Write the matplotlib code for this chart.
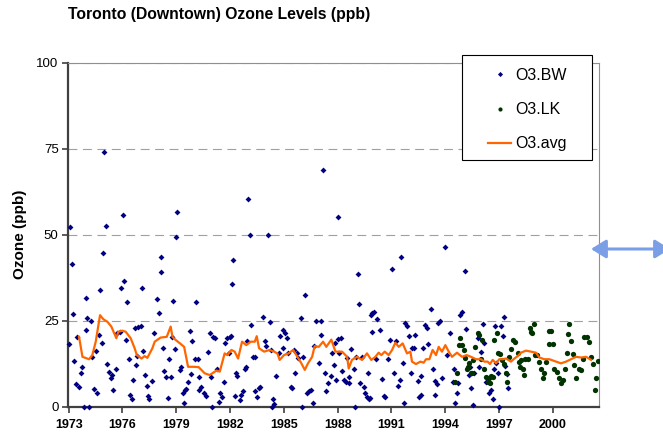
import numpy as np
import matplotlib
matplotlib.use('Agg')
import matplotlib.pyplot as plt
from matplotlib.lines import Line2D
from matplotlib.patches import Rectangle

plt.rcParams['font.family'] = ['Liberation Sans', 'DejaVu Sans']

# O3.BW readings (year, ppb)
bw_year = [1973.0, 1973.08, 1973.21, 1973.26, 1973.30, 1973.41, 1973.49, 1973.58, 1973.67, 1973.77,
           1973.86, 1973.95, 1973.99, 1974.04, 1974.16, 1974.23, 1974.32, 1974.42, 1974.53, 1974.60,
           1974.70, 1974.73, 1974.84, 1974.92, 1974.99, 1975.09, 1975.16, 1975.25, 1975.35, 1975.44,
           1975.47, 1975.62, 1975.72, 1975.85, 1975.94, 1976.05, 1976.09, 1976.18, 1976.24, 1976.37,
           1976.42, 1976.52, 1976.61, 1976.68, 1976.74, 1976.83, 1976.87, 1977.02, 1977.09, 1977.17,
           1977.24, 1977.35, 1977.43, 1977.50, 1977.67, 1977.76, 1977.95, 1978.04, 1978.13, 1978.15,
           1978.26, 1978.32, 1978.43, 1978.54, 1978.60, 1978.69, 1978.79, 1978.80, 1978.93, 1979.01,
           1979.06, 1979.21, 1979.29, 1979.40, 1979.44, 1979.47, 1979.55, 1979.66, 1979.77, 1979.85,
           1979.90, 1980.03, 1980.12, 1980.22, 1980.25, 1980.29, 1980.40, 1980.55, 1980.68, 1980.77,
           1980.87, 1980.92, 1981.00, 1981.05, 1981.18, 1981.30, 1981.40, 1981.43, 1981.56, 1981.67,
           1981.74, 1981.85, 1981.93, 1981.98, 1982.08, 1982.11, 1982.17, 1982.26, 1982.36, 1982.41,
           1982.54, 1982.63, 1982.73, 1982.82, 1982.91, 1982.97, 1983.00, 1983.10, 1983.19, 1983.28,
           1983.38, 1983.41, 1983.53, 1983.60, 1983.68, 1983.86, 1983.94, 1984.03, 1984.12, 1984.21,
           1984.31, 1984.34, 1984.42, 1984.46, 1984.59, 1984.75, 1984.79, 1984.96, 1984.98, 1985.09,
           1985.16, 1985.24, 1985.39, 1985.48, 1985.57, 1985.65, 1985.74, 1985.79, 1985.94, 1986.02,
           1986.09, 1986.20, 1986.28, 1986.39, 1986.50, 1986.61, 1986.69, 1986.82, 1986.98, 1987.06,
           1987.10, 1987.17, 1987.28, 1987.37, 1987.47, 1987.65, 1987.69, 1987.78, 1987.88, 1987.90,
           1988.02, 1988.00, 1988.10, 1988.17, 1988.25, 1988.34, 1988.47, 1988.53, 1988.62, 1988.66,
           1988.77, 1988.90, 1988.95, 1989.03, 1989.14, 1989.18, 1989.27, 1989.36, 1989.46, 1989.55,
           1989.64, 1989.70, 1989.74, 1989.83, 1989.85, 1989.92, 1989.94, 1990.05, 1990.16, 1990.20,
           1990.39, 1990.48, 1990.57, 1990.63, 1990.81, 1990.94, 1991.04, 1991.13, 1991.26, 1991.37,
           1991.48, 1991.52, 1991.63, 1991.71, 1991.74, 1991.85, 1992.00, 1992.11, 1992.15, 1992.25,
           1992.34, 1992.49, 1992.56, 1992.64, 1992.67, 1992.78, 1992.90, 1992.99, 1993.04, 1993.23,
           1993.32, 1993.42, 1993.45, 1993.56, 1993.60, 1993.71, 1993.82, 1994.01, 1994.10, 1994.29,
           1994.42, 1994.49, 1994.57, 1994.66, 1994.72, 1994.85, 1994.94, 1995.13, 1995.18, 1995.31,
           1995.39, 1995.44, 1995.54, 1995.63, 1995.81, 1995.91, 1996.00, 1996.09, 1996.19, 1996.28,
           1996.47, 1996.56, 1996.65, 1996.74, 1996.80, 1996.84, 1996.93, 1997.02, 1997.12, 1997.21,
           1997.30, 1997.36, 1997.43, 1997.49]
bw_ozone = [18.3, 52.3, 41.5, 26.9, 13.4, 6.6, 20.3, 5.6, 9.9, 11.6,
            0.0, 31.7, 22.3, 25.8, 0.0, 24.8, 14.5, 5.2, 16.2, 4.1,
            20.9, 33.9, 18.6, 44.8, 73.9, 52.5, 12.3, 10.2, 8.2, 9.2,
            5.0, 10.9, 21.3, 21.7, 34.5, 55.6, 36.6, 19.4, 30.4, 14.0,
            3.4, 2.1, 7.9, 22.8, 12.2, 14.7, 23.3, 23.5, 34.5, 16.3,
            9.2, 6.0, 3.1, 2.1, 7.6, 21.3, 31.2, 27.1, 39.1, 43.6,
            17.1, 10.4, 8.5, 2.5, 14.0, 8.7, 20.3, 30.8, 16.7, 49.2,
            56.5, 10.8, 11.6, 3.9, 1.2, 4.8, 5.2, 7.3, 22.1, 9.5,
            19.1, 13.8, 30.5, 13.9, 8.7, 4.8, 5.8, 3.9, 3.1, 15.8,
            21.5, 8.7, 0.0, 20.3, 19.9, 10.9, 1.4, 3.9, 2.7, 7.3,
            18.6, 20.1, 15.7, 20.3, 20.5, 35.6, 42.6, 3.1, 9.9, 8.9,
            1.9, 3.5, 4.6, 11.1, 11.6, 19.2, 60.5, 49.8, 23.8, 14.5,
            14.5, 4.6, 2.9, 5.3, 5.8, 26.2, 19.2, 17.6, 49.8, 24.7,
            16.5, 0.0, 2.3, 0.8, 8.9, 15.5, 20.5, 17.2, 22.3, 21.5,
            19.9, 15.7, 5.8, 5.3, 16.5, 9.9, 15.5, 14.3, 25.8, 0.0,
            14.5, 32.4, 3.9, 4.5, 4.8, 1.2, 17.6, 25.0, 12.6, 25.0,
            20.9, 68.8, 9.9, 4.6, 7.0, 8.9, 15.5, 12.1, 18.6, 7.7,
            55.0, 19.8, 15.5, 19.9, 10.5, 7.7, 7.3, 14.2, 8.7, 7.0,
            16.7, 11.1, 0.0, 14.5, 38.6, 29.8, 6.8, 14.5, 5.6, 3.9,
            2.7, 9.7, 2.3, 2.5, 26.8, 27.1, 21.8, 27.5, 13.8, 25.5,
            22.3, 8.1, 3.1, 2.7, 13.8, 19.4, 39.9, 9.7, 19.2, 6.0,
            7.7, 43.4, 12.6, 1.0, 24.2, 23.6, 20.5, 9.7, 17.2, 17.2,
            20.8, 7.5, 2.7, 3.4, 8.9, 17.2, 23.7, 22.8, 18.2, 28.5,
            10.9, 7.5, 3.5, 6.6, 24.4, 24.8, 8.2, 46.5, 15.0, 21.5,
            7.3, 10.9, 1.2, 3.9, 6.8, 26.6, 27.6, 39.5, 22.5, 9.2,
            11.6, 5.3, 0.5, 9.7, 19.9, 11.6, 16.0, 23.9, 18.6, 7.3,
            3.9, 4.8, 2.1, 10.9, 23.6, 12.8, 9.7, 0.0, 23.6, 20.5,
            26.0, 11.8, 9.5, 5.3]

# O3.LK readings
lk_year = [1994.57, 1994.66, 1994.76, 1994.85, 1994.94, 1995.03, 1995.13, 1995.22, 1995.29, 1995.35,
           1995.42, 1995.50, 1995.57, 1995.68, 1995.81, 1995.91, 1996.00, 1996.06, 1996.19, 1996.28,
           1996.37, 1996.46, 1996.50, 1996.56, 1996.65, 1996.74, 1996.87, 1996.97, 1997.06, 1997.17,
           1997.30, 1997.40, 1997.43, 1997.58, 1997.67, 1997.77, 1997.92, 1998.05, 1998.14, 1998.17,
           1998.23, 1998.32, 1998.42, 1998.47, 1998.60, 1998.73, 1998.79, 1998.85, 1998.94, 1999.01,
           1999.11, 1999.22, 1999.35, 1999.48, 1999.51, 1999.63, 1999.77, 1999.81, 1999.90, 2000.03,
           2000.09, 2000.22, 2000.37, 2000.46, 2000.56, 2000.71, 2000.78, 2000.85, 2000.93, 2001.04,
           2001.11, 2001.21, 2001.30, 2001.45, 2001.58, 2001.67, 2001.76, 2001.89, 2002.01, 2002.14,
           2002.23, 2002.38, 2002.41, 2002.51]
lk_ozone = [7.3, 9.7, 17.9, 19.9, 17.9, 16.5, 14.3, 11.1, 11.6, 12.6,
            9.7, 9.7, 13.6, 17.4, 21.3, 20.8, 13.8, 19.4, 11.1, 8.7,
            7.3, 8.2, 7.0, 8.9, 8.7, 19.4, 21.3, 15.5, 15.3, 13.6,
            12.4, 9.7, 7.3, 14.5, 16.9, 19.4, 18.9, 15.7, 13.1, 11.6,
            13.6, 11.1, 9.2, 13.8, 14.0, 22.8, 21.8, 21.3, 24.0, 15.0,
            15.0, 13.1, 11.1, 8.2, 9.9, 13.1, 22.1, 18.2, 22.1, 18.2,
            10.9, 10.2, 8.2, 6.8, 7.7, 11.1, 15.5, 21.1, 24.0, 19.2,
            15.3, 12.1, 8.2, 11.1, 10.7, 14.0, 20.3, 20.3, 18.9, 14.5,
            12.4, 5.0, 8.2, 13.4]

# O3.avg running average
avg_year = [1973.58, 1973.77, 1974.14, 1974.32, 1974.51, 1974.75, 1974.94, 1975.16, 1975.38, 1975.66,
            1975.77, 1976.00, 1976.18, 1976.46, 1976.68, 1976.80, 1977.06, 1977.24, 1977.39, 1977.67,
            1977.80, 1978.13, 1978.47, 1978.69, 1978.79, 1978.97, 1979.21, 1979.44, 1979.66, 1979.99,
            1980.25, 1980.59, 1980.87, 1981.24, 1981.43, 1981.70, 1981.85, 1982.08, 1982.26, 1982.45,
            1982.67, 1982.91, 1983.15, 1983.38, 1983.49, 1983.62, 1983.90, 1984.21, 1984.46, 1984.64,
            1984.77, 1985.01, 1985.27, 1985.52, 1985.76, 1985.98, 1986.17, 1986.35, 1986.58, 1986.72,
            1986.95, 1987.19, 1987.37, 1987.65, 1987.88, 1988.25, 1988.53, 1988.62, 1988.80, 1989.08,
            1989.36, 1989.64, 1989.88, 1990.11, 1990.29, 1990.44, 1990.63, 1990.85, 1991.04, 1991.22,
            1991.41, 1991.63, 1991.87, 1992.06, 1992.15, 1992.37, 1992.62, 1992.80, 1992.93, 1993.12,
            1993.30, 1993.49, 1993.64, 1993.82, 1994.01, 1994.20, 1994.38, 1994.66, 1994.94, 1995.20,
            1995.44, 1995.72, 1996.00, 1996.19, 1996.37, 1996.50, 1996.65, 1996.84, 1997.02, 1997.21,
            1997.40, 1997.67, 1997.86, 1998.05, 1998.23, 1998.51, 1998.79, 1999.07, 1999.25, 1999.53,
            1999.81, 2000.18, 2000.46, 2000.74, 2001.02, 2001.30, 2001.58, 2001.86, 2002.14]
avg_ozone = [20.3, 14.5, 13.8, 15.0, 18.9, 26.6, 25.4, 24.7, 23.3, 19.9,
             21.8, 22.1, 21.8, 19.9, 17.0, 15.0, 14.0, 14.7, 14.2, 17.0,
             18.9, 20.1, 20.3, 23.3, 20.3, 19.4, 18.4, 17.4, 11.6, 11.6,
             11.5, 9.7, 9.2, 10.5, 10.2, 15.5, 15.0, 16.5, 16.0, 14.0,
             18.9, 17.9, 18.9, 18.9, 20.5, 17.0, 16.0, 16.5, 16.0, 15.5,
             13.6, 15.0, 15.5, 16.5, 14.5, 12.6, 10.7, 12.6, 14.5, 17.6,
             17.4, 18.9, 17.4, 19.5, 16.0, 16.0, 14.5, 11.1, 13.6, 14.5,
             13.6, 15.5, 13.6, 14.5, 15.7, 15.0, 16.0, 15.0, 16.5, 18.6,
             17.4, 18.4, 15.5, 16.0, 13.1, 12.4, 13.1, 12.8, 13.8, 13.8,
             16.5, 15.0, 17.4, 16.0, 17.9, 16.0, 14.5, 15.7, 14.5, 15.0,
             14.5, 13.8, 13.8, 13.1, 13.1, 12.4, 13.6, 12.6, 13.8, 13.8,
             14.0, 13.1, 14.0, 14.7, 15.7, 16.3, 16.0, 15.7, 14.3, 13.8,
             13.8, 13.1, 12.6, 13.1, 13.8, 14.5, 14.3, 14.5, 13.6]

year_ticks = [1973, 1976, 1979, 1982, 1985, 1988, 1991, 1994, 1997, 2000]
ozone_ticks = [0, 25, 50, 75, 100]

W, H = 663, 441
fig = plt.figure(figsize=(W / 100, H / 100), dpi=100)
ax = fig.add_axes([68.3 / W, 1 - 406.7 / H, (599 - 68.3) / W, (406.7 - 62.7) / H])

ax.set_xlim(1972.98, 2002.58)
ax.set_ylim(0, 100)

for v in ozone_ticks[1:]:
    ax.axhline(v, color='#a0a0a0', lw=0.8, dashes=(8, 5), zorder=1)

ax.plot(bw_year, bw_ozone, linestyle='none', marker='D', ms=3.0, mew=0,
        color='#000080', zorder=3, clip_on=False)
ax.plot(lk_year, lk_ozone, linestyle='none', marker='o', ms=3.8, mew=0,
        color='#003300', zorder=4)
ax.plot(avg_year, avg_ozone, color='#ff6600', lw=1.6, zorder=5)

ax.set_xticks(year_ticks)
ax.set_yticks(ozone_ticks)
ax.set_xticklabels([str(y) for y in year_ticks], fontsize=9, fontweight='bold')
ax.set_yticklabels([str(v) for v in ozone_ticks], fontsize=9.5)
ax.tick_params(axis='both', direction='out', length=4, width=1.2, color='#404040')
ax.tick_params(axis='x', pad=5)
ax.tick_params(axis='y', pad=3)

for side in ['left', 'bottom']:
    ax.spines[side].set_color('#404040')
    ax.spines[side].set_linewidth(1.6)
for side in ['right', 'top']:
    ax.spines[side].set_color('#909090')
    ax.spines[side].set_linewidth(0.8)

fig.text(20 / W, 1 - 234.7 / H, 'Ozone (ppb)', rotation=90, fontsize=11,
         fontweight='bold', ha='center', va='center')
fig.text(68 / W, 1 - 15 / H, 'Toronto (Downtown) Ozone Levels (ppb)', fontsize=11.3,
         fontweight='bold', ha='left', va='center')

# legend box
fig.patches.append(Rectangle((462 / W, 1 - 160 / H), 130 / W, 105 / H, transform=fig.transFigure,
                             facecolor='white', edgecolor='black', lw=0.8, zorder=10))
handles = [Line2D([], [], linestyle='none', marker='D', ms=2.6, mew=0, color='#000080'),
           Line2D([], [], linestyle='none', marker='o', ms=3.0, mew=0, color='#003300'),
           Line2D([], [], color='#ff6600', lw=1.6)]
leg = fig.legend(handles, ['O3.BW', 'O3.LK', 'O3.avg'], loc='upper left',
                 bbox_to_anchor=(480 / W, 1 - 60 / H), frameon=False, fontsize=11.5,
                 borderpad=0, handlelength=1.45, handletextpad=0.25, labelspacing=1.2)
leg.set_zorder(11)

# double arrow at right edge
fig.add_artist(matplotlib.patches.FancyArrowPatch(
    (591 / W, 1 - 249 / H), (670 / W, 1 - 249 / H), transform=fig.transFigure,
    arrowstyle='<|-|>,head_length=0.45,head_width=0.28', mutation_scale=20,
    color='#7b9fe6', lw=2.2, shrinkA=0, shrinkB=0))

fig.savefig('out.png', dpi=100)
print('Saved: out.png')
